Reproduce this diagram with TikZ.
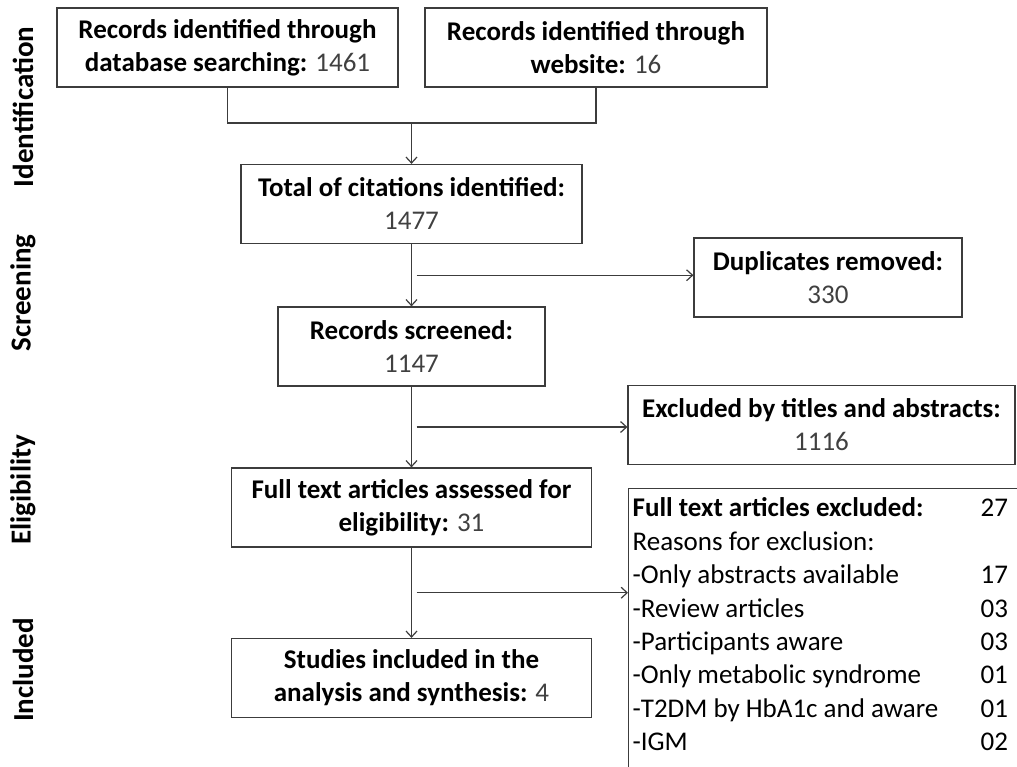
\documentclass[tikz,border=0pt]{standalone}
\usepackage{fontspec}
\setmainfont{Carlito}
\usetikzlibrary{arrows.meta,calc}
\definecolor{linegray}{HTML}{3C3C3C}
\definecolor{numgray}{HTML}{404040}
\newcommand{\tally}[1]{{\mdseries\color{numgray}#1}}

\begin{document}
\begin{tikzpicture}[x=1pt,y=-1pt,
    box/.style={draw=linegray,line width=1.2pt,minimum height=79pt,align=center,inner sep=0pt,
      font=\fontsize{27}{33}\selectfont\bfseries},
    arr/.style={draw=linegray,line width=1.2pt,-{Straight Barb[length=6pt,width=11pt]}},
    link/.style={draw=linegray,line width=1.2pt},
    phase/.style={rotate=90,font=\fontsize{29}{33}\selectfont\bfseries}]
    \useasboundingbox (0,0) rectangle (1017,767);
    \clip (0,0) rectangle (1017,767);

    % Phase labels
    \node[phase] (lident) at (23,107) {Identification};
    \node[phase] (lscreen) at (23,293) {Screening};
    \node[phase] (leligible) at (23,490) {Eligibility};
    \node[phase] (lincl) at (23,670) {Included};

    % Identification
    \node[box,minimum width=341pt] (dbrec) at (227.5,47.5)
        {Records identified through\\database searching: \tally{1461}};
    \node[box,minimum width=342pt] (webrec) at (596,47.5)
        {Records identified through\\website: \tally{16}};
    \node[box,minimum width=341pt] (total) at (411.5,204)
        {Total of citations identified:\\\tally{1477}};
    \coordinate (join) at (411.5,123);

    % Screening
    \node[box,minimum width=268pt] (dupl) at (828,277.5)
        {Duplicates removed:\\\tally{330}};
    \node[box,minimum width=267pt] (screened) at (411.5,346.5)
        {Records screened:\\\tally{1147}};
    \node[box,minimum width=387pt] (exclta) at (821.5,425)
        {Excluded by titles and abstracts:\\\tally{1116}};

    % Eligibility
    \node[box,minimum width=360pt] (fullassess) at (411.5,507.5)
        {Full text articles assessed for\\eligibility: \tally{31}};
    \node[draw=linegray,line width=1.2pt,anchor=north west,inner xsep=4pt,inner ysep=5pt,
        font=\fontsize{27}{33.4}\selectfont] (fullexcl) at (628,488)
        {\begin{tabular}{@{}p{348pt}@{}l@{\hspace{30pt}}}
          \textbf{Full text articles excluded:} & 27\\
          Reasons for exclusion: & \\
          -Only abstracts available & 17\\
          -Review articles & 03\\
          -Participants aware & 03\\
          -Only metabolic syndrome & 01\\
          -T2DM by HbA1c and aware & 01\\
          -IGM & 02\\[40pt]
        \end{tabular}};

    % Included
    \node[box,minimum width=360pt] (studies) at (411.5,678)
        {Studies included in the\\analysis and synthesis: \tally{4}};

    % Connectors
    \draw[link] (dbrec.south) |- (join) -| (webrec.south);
    \draw[arr] (join) -- (total.north);
    \draw[arr] (total) -- (screened);
    \draw[arr] (screened) -- (fullassess);
    \draw[arr] (fullassess) -- (studies);

    \coordinate (side1) at ([xshift=5pt]$(total.south)!.5!(screened.north)$);
    \coordinate (side2) at ([xshift=5pt]$(screened.south)!.5!(fullassess.north)$);
    \coordinate (side3) at ([xshift=5pt]$(fullassess.south)!.5!(studies.north)$);
    \draw[arr] (side1) -- (side1 -| dupl.west);
    \draw[arr] (side2) -- (side2 -| exclta.west);
    \draw[arr] (side3) -- (side3 -| fullexcl.west);
\end{tikzpicture}
\end{document}
